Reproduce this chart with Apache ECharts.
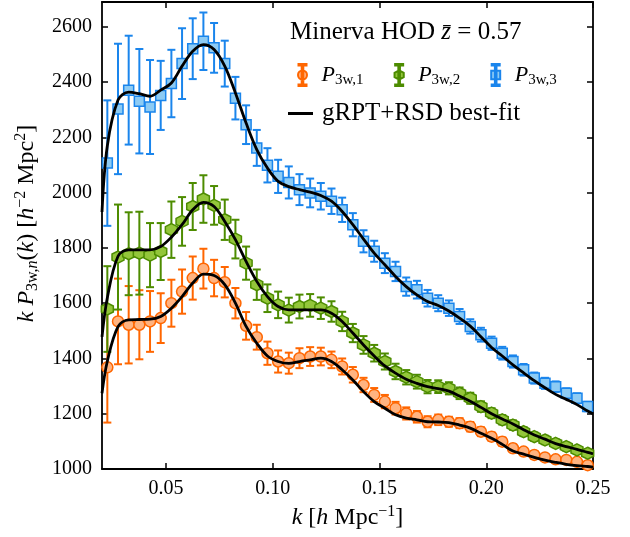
<!DOCTYPE html>
<html>
<head>
<meta charset="utf-8">
<script src="https://cdn.jsdelivr.net/npm/echarts@6/dist/echarts.min.js"></script>
<style>
html,body{margin:0;padding:0;background:#fff;}
#chart{width:630px;height:537px;}
</style>
</head>
<body>
<div id="chart"></div>
<script>
// ---- data ----
const kValues = [0.0225,0.0275,0.0325,0.0375,0.0425,0.0475,0.0525,0.0575,0.0625,0.0675,
  0.0725,0.0775,0.0825,0.0875,0.0925,0.0975,0.1025,0.1075,0.1125,0.1175,
  0.1225,0.1275,0.1325,0.1375,0.1425,0.1475,0.1525,0.1575,0.1625,0.1675,
  0.1725,0.1775,0.1825,0.1875,0.1925,0.1975,0.2025,0.2075,0.2125,0.2175,
  0.2225,0.2275,0.2325,0.2375,0.2425,0.2475];

const p3w1 = [1368,1534,1522,1522,1534,1546,1600,1642,1691,1725,
  1691,1676,1600,1518,1477,1419,1389,1383,1401,1407,
  1407,1395,1371,1341,1304,1268,1244,1220,1201,1189,
  1171,1178,1171,1166,1153,1135,1117,1099,1075,1063,
  1051,1042,1035,1033,1026,1014];
const err1 = [200,155,140,125,110,90,85,80,78,72,
  66,55,55,50,45,42,40,38,36,34,
  32,30,29,28,26,25,24,23,22,21,
  20,19,18,18,17,16,15,15,14,13,
  13,12,12,11,11,10];

const p3w2 = [1579,1767,1779,1781,1774,1787,1866,1896,1950,1977,
  1954,1902,1832,1745,1667,1618,1594,1575,1588,1592,
  1582,1570,1534,1492,1449,1419,1389,1353,1332,1316,
  1298,1298,1292,1274,1256,1226,1202,1178,1159,1135,
  1117,1105,1093,1081,1069,1057];
const err2 = [155,190,150,150,116,103,102,88,85,86,
  70,73,70,60,55,50,48,45,43,41,
  39,37,35,33,32,30,29,28,26,25,
  24,23,22,21,20,19,18,17,17,16,
  15,15,14,14,13,13];

const p3w3 = [2107,2303,2371,2331,2310,2352,2395,2467,2521,2548,
  2524,2467,2342,2246,2162,2099,2059,2037,2011,1999,
  1987,1969,1938,1884,1824,1788,1745,1715,1660,1649,
  1618,1600,1582,1552,1516,1486,1455,1419,1389,1359,
  1329,1310,1298,1274,1256,1226];
const err3 = [227,236,197,189,170,125,122,128,110,104,
  90,83,77,70,65,62,60,58,56,52,
  48,46,44,42,40,38,36,35,33,32,
  30,29,28,27,26,25,24,23,22,21,
  20,20,19,18,18,17];

const fitK = [0.02,0.0225,0.0275,0.0325,0.0375,0.0425,0.0475,0.0525,0.0575,0.0625,0.0675,
  0.0725,0.0775,0.0825,0.0875,0.0925,0.0975,0.1025,0.1075,0.1125,0.1175,
  0.1225,0.1275,0.1325,0.1375,0.1425,0.1475,0.1525,0.1575,0.1625,0.1675,
  0.1725,0.1775,0.1825,0.1875,0.1925,0.1975,0.2025,0.2075,0.2125,0.2175,
  0.2225,0.2275,0.2325,0.2375,0.2425,0.2475,0.25];
const fit1 = [1274,1390,1515,1540,1541,1542,1552,1582,1624,1673,1705,
  1700,1667,1600,1516,1455,1409,1389,1382,1389,1395,
  1401,1389,1359,1322,1280,1244,1220,1196,1184,1178,
  1171,1170,1168,1159,1148,1129,1111,1089,1065,1054,
  1042,1032,1024,1017,1012,1009,1007];
const fit2 = [1478,1620,1770,1793,1793,1793,1805,1839,1884,1938,1965,
  1950,1896,1830,1751,1679,1624,1588,1576,1576,1576,
  1576,1564,1534,1492,1449,1409,1373,1347,1325,1310,
  1298,1291,1282,1264,1245,1223,1200,1181,1163,1142,
  1123,1108,1092,1081,1071,1060,1055];
const fit3 = [1930,2170,2335,2364,2358,2349,2371,2397,2458,2512,2536,
  2518,2458,2361,2252,2156,2089,2041,2022,2011,2002,
  1990,1969,1932,1884,1832,1781,1739,1697,1660,1630,
  1606,1592,1572,1546,1517,1479,1440,1409,1377,1348,
  1320,1294,1270,1252,1233,1210,1200];

const xTicks = [0.05,0.10,0.15,0.20,0.25];
const yTicks = [1000,1200,1400,1600,1800,2000,2200,2400,2600];
const seriesNames = ['P3w,1','P3w,2','P3w,3'];
const fitName = 'gRPT+RSD best-fit';

// ---- styles ----
const FONT = '"Liberation Serif","DejaVu Serif",serif';
const cols = [
  {edge:'#FF6600', fill:'#FFB380'},
  {edge:'#4D8C00', fill:'#93C63A'},
  {edge:'#1A85EC', fill:'#8DCBF4'}
];
const hexPath = 'path://M0,-1L0.866,-0.5L0.866,0.5L0,1L-0.866,0.5L-0.866,-0.5Z';
const ibeam = 'M2,0L10,0L10,1.6L6.8,1.6L6.8,20.4L10,20.4L10,22L2,22L2,20.4L5.2,20.4L5.2,1.6L2,1.6Z';
const legIcons = [
  'path://' + ibeam + 'M10.5,11A4.5,4.5 0 1 1 1.5,11A4.5,4.5 0 1 1 10.5,11Z',
  'path://' + ibeam + 'M6,6.3L10.6,8.8L10.6,13.2L6,15.7L1.4,13.2L1.4,8.8Z',
  'path://' + ibeam + 'M1.5,6.8L10.5,6.8L10.5,15.2L1.5,15.2Z'
];
const markers = [
  {symbol:'circle', size:11},
  {symbol:hexPath, size:12},
  {symbol:'rect', size:10}
];

function richBase(size, lh, sub){
  return {
    it:{fontFamily:FONT, fontStyle:'italic', fontSize:size, lineHeight:lh, color:'#000', verticalAlign:'middle'},
    sub:{fontFamily:FONT, fontSize:sub, lineHeight:lh, color:'#000', verticalAlign:'bottom'},
    subit:{fontFamily:FONT, fontStyle:'italic', fontSize:sub, lineHeight:lh, color:'#000', verticalAlign:'bottom'},
    sup:{fontFamily:FONT, fontSize:sub, lineHeight:lh, color:'#000', verticalAlign:'top'},
    rm:{fontFamily:FONT, fontSize:size, lineHeight:lh, color:'#000', verticalAlign:'middle'}
  };
}

const pts = [p3w1, p3w2, p3w3];
const errs = [err1, err2, err3];
const fits = [fit1, fit2, fit3];

const series = [];
for (let s = 0; s < 3; s++) {
  const c = cols[s];
  series.push({
    name: 'err' + (s+1),
    type: 'custom',
    z: 2,
    data: kValues.map((k,i) => [k, pts[s][i], errs[s][i]]),
    renderItem: function(params, api){
      const x = api.value(0), y = api.value(1), e = api.value(2);
      const top = api.coord([x, y + e]);
      const bot = api.coord([x, y - e]);
      const hw = 4;
      const st = {stroke: c.edge, lineWidth: 2, fill: null};
      return {type:'group', children:[
        {type:'line', shape:{x1:top[0], y1:top[1], x2:bot[0], y2:bot[1]}, style:st},
        {type:'line', shape:{x1:top[0]-hw, y1:top[1], x2:top[0]+hw, y2:top[1]}, style:st},
        {type:'line', shape:{x1:bot[0]-hw, y1:bot[1], x2:bot[0]+hw, y2:bot[1]}, style:st}
      ]};
    }
  });
  series.push({
    name: seriesNames[s],
    type: 'scatter',
    z: 3,
    symbol: markers[s].symbol,
    symbolSize: markers[s].size,
    itemStyle: {color: c.fill, borderColor: c.edge, borderWidth: 1.5, opacity: 1},
    data: kValues.map((k,i) => [k, pts[s][i]])
  });
}
for (let s = 0; s < 3; s++) {
  series.push({
    name: fitName,
    type: 'line',
    z: 4,
    smooth: 0.35,
    showSymbol: false,
    symbol: 'none',
    lineStyle: {color:'#000', width: 2.8},
    itemStyle: {color:'#000'},
    data: fitK.map((k,i) => [k, fits[s][i]])
  });
}

const axisLineStyle = {show:true, onZero:false, lineStyle:{color:'#000', width:1.8}};

const option = {
  animation: false,
  backgroundColor: '#fff',
  grid: {left:102, right:37, top:2, bottom:68, show:false},
  title: {
    text: 'Minerva HOD {it|z\u0304} = 0.57',
    left: 285, top: 14,
    textStyle: {fontFamily:FONT, fontSize:25, fontWeight:'normal', color:'#000', lineHeight:26,
      rich: richBase(25, 26, 16)}
  },
  legend: [
    {
      data: seriesNames.map((n,i) => ({name:n, icon:legIcons[i]})),
      left: 292, top: 57,
      itemWidth: 10, itemHeight: 22, itemGap: 30,
      selectedMode: false,
      formatter: function(n){
        return '{it|P}{sub|' + n.slice(1) + '}';
      },
      textStyle: {fontFamily:FONT, fontSize:22, color:'#000', lineHeight:26, padding:[0,0,0,9], rich: richBase(22, 26, 15)}
    },
    {
      data: [{name: fitName, icon:'rect'}],
      left: 283, top: 96,
      itemWidth: 25, itemHeight: 3,
      selectedMode: false,
      textStyle: {fontFamily:FONT, fontSize:25, color:'#000', padding:[0,0,0,4]}
    }
  ],
  xAxis: [
    {
      type:'value', min:0.02, max:0.25, position:'bottom',
      axisLine: axisLineStyle,
      axisTick: {show:true, inside:true, length:6, lineStyle:{color:'#000', width:1.5}, customValues: xTicks},
      axisLabel: {show:true, customValues: xTicks, margin:10, color:'#000', fontFamily:FONT, fontSize:20,
        formatter: v => v.toFixed(2)},
      splitLine: {show:false},
      name: '{it|k} [{it|h} Mpc{sup|\u22121}]',
      nameLocation: 'middle', nameGap: 35,
      nameTextStyle: {fontFamily:FONT, fontSize:24, color:'#000', lineHeight:28, rich: richBase(24, 28, 16)}
    },
    {
      type:'value', min:0.02, max:0.25, position:'top',
      axisLine: axisLineStyle,
      axisTick: {show:true, inside:true, length:6, lineStyle:{color:'#000', width:1.5}, customValues: xTicks},
      axisLabel: {show:false},
      splitLine: {show:false}
    }
  ],
  yAxis: [
    {
      type:'value', min:1000, max:2690, position:'left',
      axisLine: axisLineStyle,
      axisTick: {show:true, inside:true, length:6, lineStyle:{color:'#000', width:1.5}, customValues: yTicks},
      axisLabel: {show:true, customValues: yTicks, margin:10, color:'#000', fontFamily:FONT, fontSize:20,
        formatter: v => String(v)},
      splitLine: {show:false},
      name: '{it|k P}{sub|3w,}{subit|n}({it|k}) [{it|h}{sup|\u22122} Mpc{sup|2}]',
      nameLocation: 'middle', nameGap: 51,
      nameTextStyle: {fontFamily:FONT, fontSize:24, color:'#000', lineHeight:28, padding:[0,0,0,24], rich: richBase(24, 28, 16)}
    },
    {
      type:'value', min:1000, max:2690, position:'right',
      axisLine: axisLineStyle,
      axisTick: {show:true, inside:true, length:6, lineStyle:{color:'#000', width:1.5}, customValues: yTicks},
      axisLabel: {show:false},
      splitLine: {show:false}
    }
  ],
  series: series
};

const chart = echarts.init(document.getElementById('chart'), null, {renderer:'canvas'});
chart.setOption(option);
</script>
</body>
</html>
